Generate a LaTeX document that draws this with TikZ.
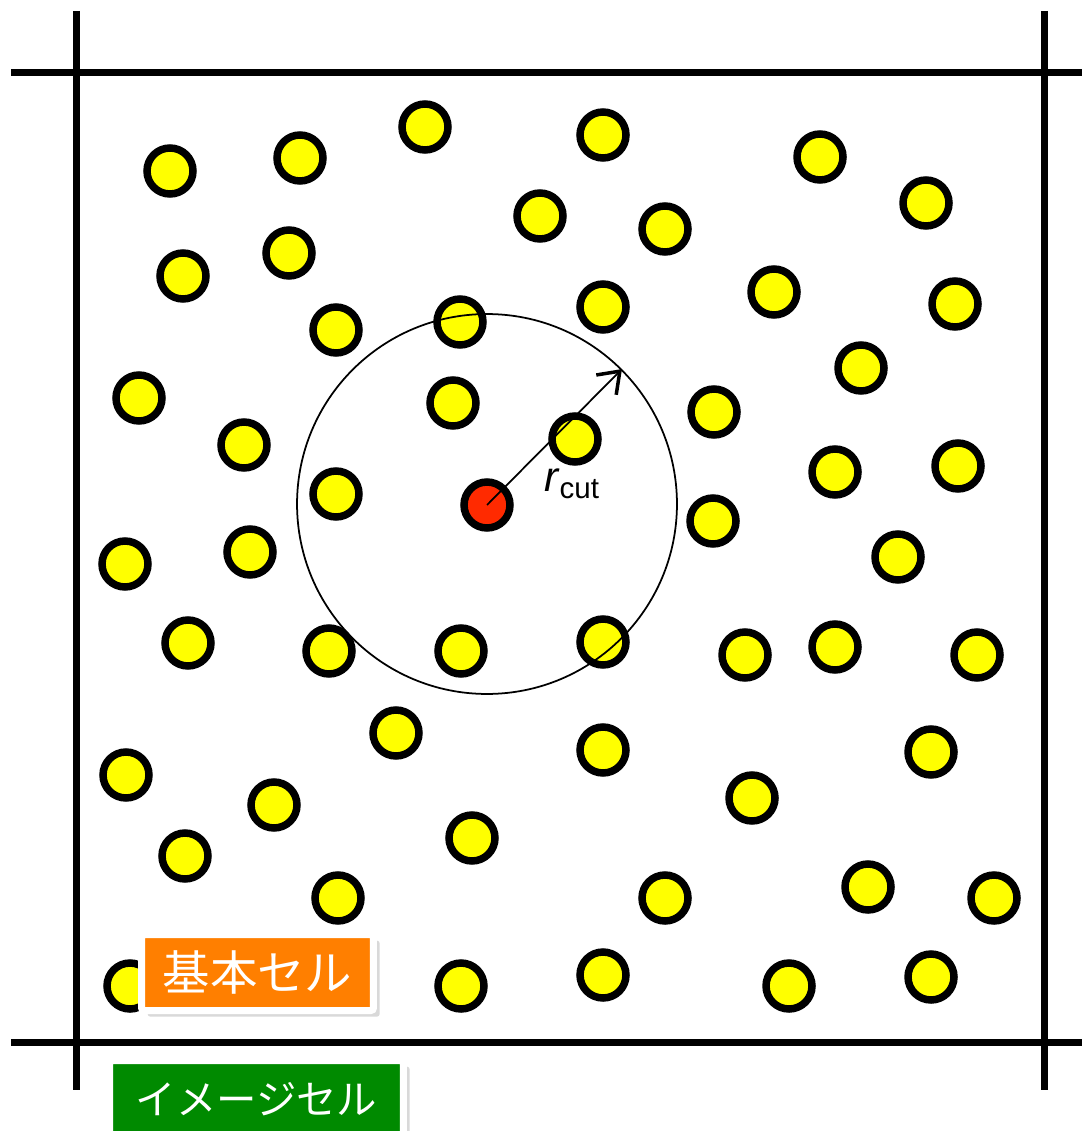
\documentclass[tikz,border=0pt]{standalone}
\usepackage{tikz}
\usetikzlibrary{positioning, arrows.meta, shadows}
\usepackage{fontspec}
\setsansfont{Liberation Sans}
\newfontfamily\jpfont{Noto Sans CJK JP}
\usepackage{xcolor}
\definecolor{mdyellow}{HTML}{FFFF00}
\definecolor{mdred}{HTML}{FF2A00}
\definecolor{mdorange}{HTML}{FF7F00}
\definecolor{mdgreen}{HTML}{008A00}

\begin{document}
\begin{tikzpicture}[x=0.02cm, y=-0.02cm, font=\sffamily,
    cell/.style={line width=0.14cm},
    atom/.style={circle, draw=black, fill=mdyellow, line width=0.15cm,
                 minimum size=0.92cm, inner sep=0pt},
    tag/.style={draw=white, line width=0.14cm, text=white, inner sep=0pt, rounded corners=1.5pt,
                drop shadow={shadow xshift=3.5pt, shadow yshift=-3.5pt, opacity=0.3}}]
    \useasboundingbox (0,0) rectangle (1082,1131);
    % cell boundaries
    \draw[cell] (76,11) -- (76,1090);
    \draw[cell] (1044,11) -- (1044,1090);
    \draw[cell] (11,73) -- (1082,73);
    \draw[cell] (11,1042) -- (1082,1042);
    % particles
    \foreach \x/\y [count=\i] in {170/171, 300/158, 425/127, 603/135, 820/157, 926/203,
        540/216, 665/229, 183/276, 289/253, 603/307, 774/292, 955/304,
        336/330, 460/322, 861/368, 139/398, 453/403, 714/412, 575/439,
        244/445, 835/472, 958/466, 336/494, 713/521,
        125/564, 250/552, 898/557,
        188/643, 329/651, 461/651, 603/642, 745/655, 835/647, 977/655,
        396/733, 603/750, 931/752, 126/775, 274/805, 752/798,
        185/856, 472/838, 338/898, 665/898, 868/887, 994/898,
        130/986, 461/986, 603/975, 789/986, 931/977}
      \node[atom] (p\i) at (\x,\y) {};
    \node[atom, fill=mdred] (c) at (487,505) {};
    % cut-off sphere
    \node[circle, draw, line width=1pt, minimum size=7.6cm, inner sep=0pt] (cutoff) at (487,504) {};
    \draw[line width=1pt, -{Straight Barb[length=11pt, width=16pt, line width=2pt]}] (c.center) -- (cutoff.45);
    \node[font=\sffamily\fontsize{24}{24}\selectfont] (rcut) at (572,484) {\textit{r}\textsubscript{cut}};
    % labels
    \node[tag, fill=mdorange, minimum width=4.64cm, minimum height=1.52cm,
          font=\jpfont\fontsize{27}{27}\selectfont] (basic) at (257.5,972.5) {基本セル};
    \node[tag, fill=mdgreen, minimum width=5.88cm, minimum height=1.54cm,
          font=\jpfont\fontsize{23}{23}\selectfont] (image) at (256.5,1099) {イメージセル};
\end{tikzpicture}
\end{document}
